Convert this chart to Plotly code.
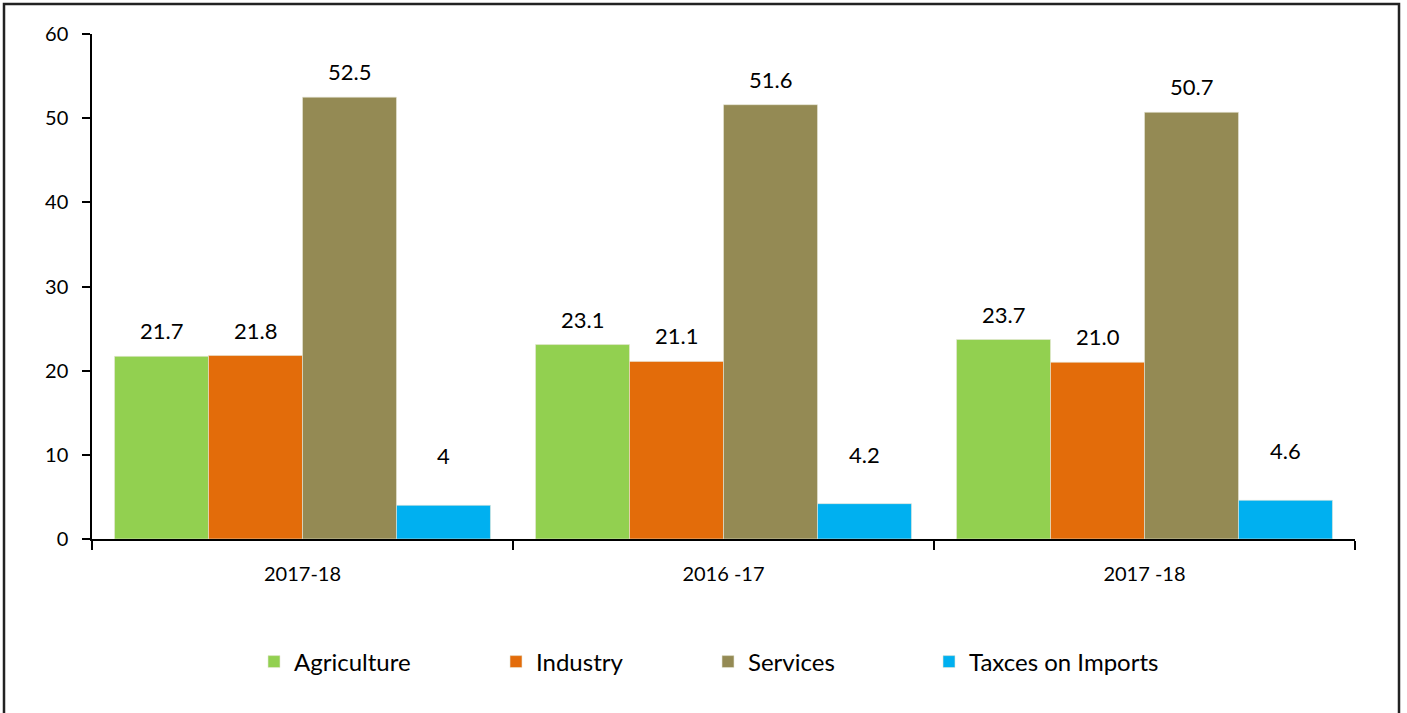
import plotly.graph_objects as go

categories = ["2017-18", "2016 -17", "2017 -18"]
series_names = ["Agriculture", "Industry", "Services", "Taxces on Imports"]
agriculture = [21.7, 23.1, 23.7]
industry = [21.8, 21.1, 21.0]
services = [52.5, 51.6, 50.7]
taxes = [4.0, 4.2, 4.6]
agriculture_labels = ["21.7", "23.1", "23.7"]
industry_labels = ["21.8", "21.1", "21.0"]
services_labels = ["52.5", "51.6", "50.7"]
taxes_labels = ["4", "4.2", "4.6"]
colors = ["#92D050", "#E36C0A", "#948A54", "#00B0F0"]
y_ticks = [0, 10, 20, 30, 40, 50, 60]

values = [agriculture, industry, services, taxes]
labels = [agriculture_labels, industry_labels, services_labels, taxes_labels]
label_shift = [10, 10, 10, 34]

FONT = "Lato, 'Open Sans', sans-serif"

W, H = 1407, 713
ml, mr, mt, mb = 92, 52, 34, 174
plot_w = W - ml - mr
plot_h = H - mt - mb
cat_w = plot_w / len(categories)
bargap = 0.107
bar_w = cat_w * (1 - bargap) / len(series_names)

# legend text starting pixels (layout)
legend_text_px = [296, 538, 750, 971]
legend_names = ["legend", "legend2", "legend3", "legend4"]

fig = go.Figure()
for name, vals, col, lg in zip(series_names, values, colors, legend_names):
    fig.add_trace(go.Bar(
        x=categories, y=vals, name=name, legend=lg,
        marker=dict(color=col, line=dict(width=0.6, color="#e8e8d8")),
        hoverinfo="skip",
    ))

annotations = []
for si, (vals, labs) in enumerate(zip(values, labels)):
    off = (si - (len(series_names) - 1) / 2) * bar_w
    for c, v, t in zip(categories, vals, labs):
        annotations.append(dict(
            x=c, y=v, xref="x", yref="y", text=t, showarrow=False,
            xshift=off, yshift=label_shift[si], yanchor="bottom",
            font=dict(family=FONT, size=22, color="#000"),
        ))

legend_y = (H - mb - 662) / plot_h
legend_cfg = {}
for lg, tx in zip(legend_names, legend_text_px):
    legend_cfg[lg] = dict(
        orientation="h", x=(tx - 42 - ml) / plot_w, xanchor="left",
        y=legend_y, yanchor="middle", bgcolor="rgba(0,0,0,0)",
        font=dict(family=FONT, size=24, color="#000"),
    )

fig.update_layout(
    width=W, height=H,
    margin=dict(l=ml, r=mr, t=mt, b=mb),
    paper_bgcolor="white", plot_bgcolor="white",
    barmode="group", bargap=bargap, bargroupgap=0,
    font=dict(family=FONT, size=20, color="#000"),
    showlegend=True,
    annotations=annotations,
    shapes=[dict(
        type="rect", xref="paper", yref="paper",
        x0=(4 - ml) / plot_w, x1=(1399 - ml) / plot_w,
        y0=-0.6, y1=(H - mb - 4) / plot_h,
        line=dict(color="#222", width=2.5), fillcolor="rgba(0,0,0,0)",
        layer="above",
    )],
    **legend_cfg,
)
fig.update_xaxes(
    showline=True, linecolor="#000", linewidth=1.5,
    ticks="outside", tickson="boundaries", ticklen=9, tickcolor="#000", tickwidth=1.5,
    showgrid=False, ticklabelstandoff=16,
    tickfont=dict(family=FONT, size=20, color="#000"),
)
fig.update_yaxes(
    range=[0, 60], tickvals=y_ticks,
    showline=True, linecolor="#000", linewidth=1.5,
    ticks="outside", ticklen=8, tickcolor="#000", tickwidth=1.5,
    showgrid=False, zeroline=False, ticklabelstandoff=10,
    tickfont=dict(family=FONT, size=20, color="#000"),
)

fig.write_html(
    "out.html",
    config={"displayModeBar": False},
    post_script="document.body.style.margin='0';document.body.style.overflow='hidden';",
)
